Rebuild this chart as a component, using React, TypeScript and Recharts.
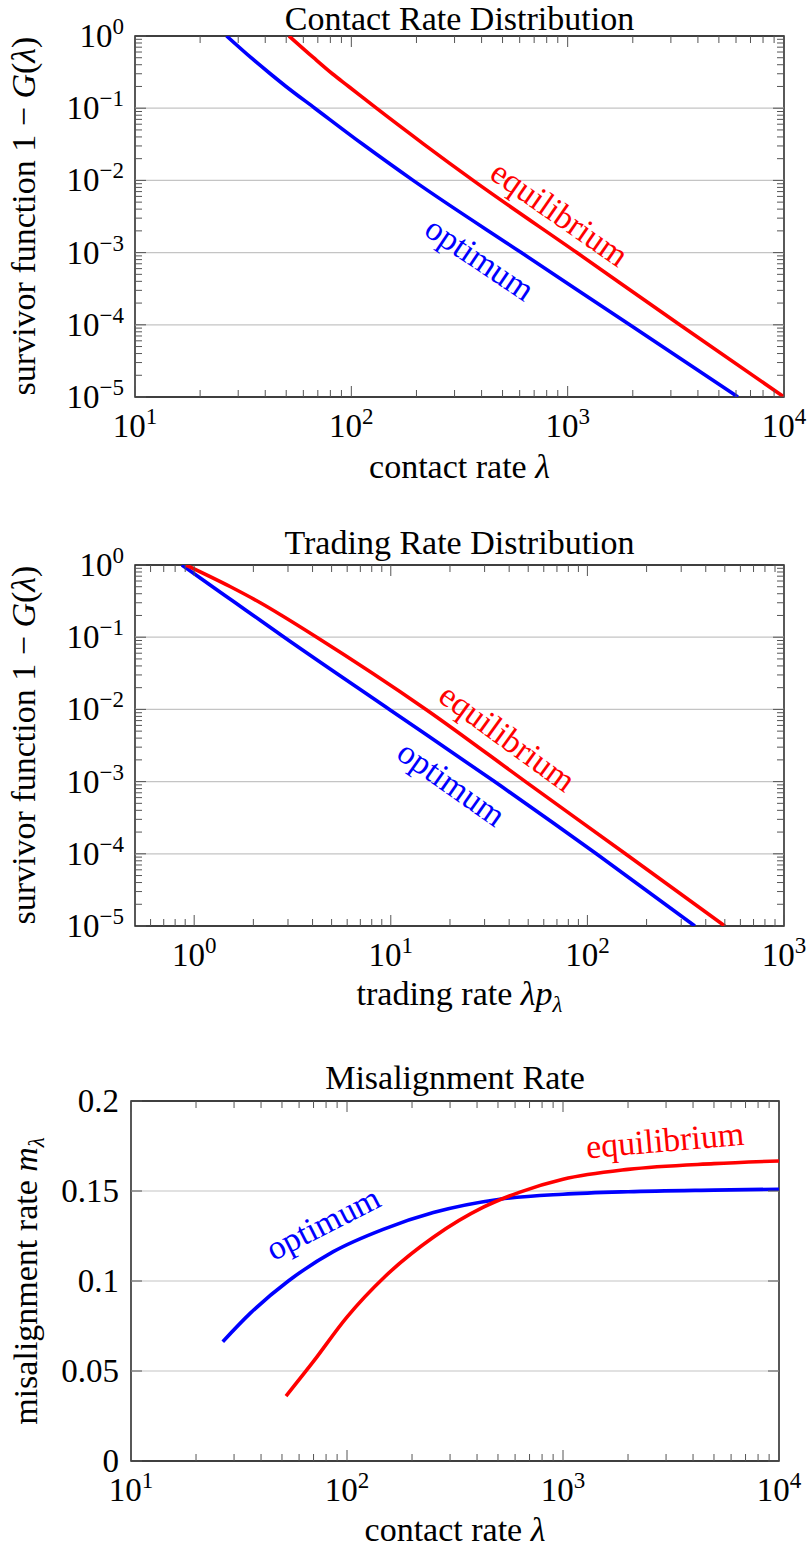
import React from 'react'
import {
  LineChart,
  Line,
  XAxis,
  YAxis,
  ReferenceLine,
  ReferenceArea,
  ReferenceDot,
} from 'recharts'

const FONT = '"Liberation Serif", "Times New Roman", serif'
const RED = '#ff0000'
const BLUE = '#0000ff'

// --- Contact rate distribution (survivor function vs contact rate) ---
const survivorLevels = [1, 0.5, 0.3, 0.2, 0.1, 0.0316, 0.01, 0.001, 0.0001, 0.00001]
const contactOptLambda = [26.5, 34.4, 42.2, 49.9, 67.8, 113, 193, 610, 1936, 6120]
const contactEqLambda = [51.5, 66.9, 81.7, 97.2, 130.6, 216.8, 365.6, 1102, 3296, 10000]

// --- Trading rate distribution (survivor function vs trading rate) ---
const tradeLevels = [1, 0.5, 0.3, 0.2, 0.1, 0.01, 0.001, 0.0001, 0.00001]
const tradeOptRate = [0.866, 1.24, 1.62, 2.0, 2.87, 9.84, 33.7, 111, 352]
const tradeEqRate = [0.908, 1.53, 2.17, 2.79, 4.2, 15.1, 48.4, 156, 500]

// --- Misalignment rate vs contact rate ---
const misOptLambda = [26.6, 35.6, 53.5, 86.4, 147, 251, 510, 1000, 2000, 5000, 10000]
const misOptRate = [0.0663, 0.082, 0.1, 0.1163, 0.1287, 0.138, 0.1454, 0.1482, 0.1496, 0.1505, 0.151]
const misEqLambda = [52.2, 69.8, 99.7, 150, 251, 428, 632, 1000, 2000, 5000, 10000]
const misEqRate = [0.0361, 0.0552, 0.0798, 0.1025, 0.1243, 0.141, 0.1494, 0.1565, 0.162, 0.1652, 0.1667]

// --- ticks ---
const contactTicks = [10, 100, 1000, 10000]
const tradeTicks = [1, 10, 100, 1000]
const survivorTicks = [0.00001, 0.0001, 0.001, 0.01, 0.1, 1]
const misTicks = [0, 0.05, 0.1, 0.15, 0.2]
const misTickLabels = ['0', '0.05', '0.1', '0.15', '0.2']

const zip = (xs: number[], ys: number[]) => xs.map((x, i) => ({ x, y: ys[i] }))

// minor log ticks (2..9 per decade) inside a domain
const minorLog = (decades: number[], lo: number, hi: number) => {
  const out: number[] = []
  decades.forEach((d) => {
    for (let k = 2; k <= 9; k++) {
      const v = d * k
      if (v > lo * 1.0001 && v < hi * 0.9999) out.push(v)
    }
  })
  return out
}

const expLabel = (v: number) => {
  const e = Math.round(Math.log10(v))
  return e < 0 ? '\u2212' + Math.abs(e) : String(e)
}

type Frame = { top: number; bottom: number; left: number; right: number }

const TICK_COLOR = '#555'
const fontStyle = { fontFamily: FONT }

function XTick(props: any) {
  const { x, payload, frame, majors } = props
  const v = payload.value
  const major = majors.includes(v)
  const len = major ? 11 : 7
  return (
    <g>
      <line x1={x} x2={x} y1={frame.bottom} y2={frame.bottom - len} stroke={TICK_COLOR} strokeWidth={1} />
      <line x1={x} x2={x} y1={frame.top} y2={frame.top + len} stroke={TICK_COLOR} strokeWidth={1} />
      {major && (
        <text x={x} y={frame.bottom + 40} textAnchor="middle" style={fontStyle} fontSize={33} fill="#000">
          10
          <tspan dy={-13} fontSize={23}>
            {expLabel(v)}
          </tspan>
        </text>
      )}
    </g>
  )
}

function YTick(props: any) {
  const { y, payload, frame, majors, labels, log } = props
  const v = payload.value
  const idx = majors.indexOf(v)
  const major = idx >= 0
  const len = major ? 11 : 7
  return (
    <g>
      <line x1={frame.left} x2={frame.left + len} y1={y} y2={y} stroke={TICK_COLOR} strokeWidth={1} />
      <line x1={frame.right} x2={frame.right - len} y1={y} y2={y} stroke={TICK_COLOR} strokeWidth={1} />
      {major &&
        (log ? (
          <text x={frame.left - 11} y={y + 11} textAnchor="end" style={fontStyle} fontSize={33} fill="#000">
            10
            <tspan dy={-13} fontSize={23}>
              {expLabel(v)}
            </tspan>
          </text>
        ) : (
          <text x={frame.left - 12} y={y + 11} textAnchor="end" style={fontStyle} fontSize={33} fill="#000">
            {labels[idx]}
          </text>
        ))}
    </g>
  )
}

type Series = { data: { x: number; y: number }[]; color: string; name: string }
type Note = { x: number; y: number; text: string; color: string; angle: number }

type PanelProps = {
  top: number
  height: number
  frame: Frame
  xDomain: [number, number]
  xMajor: number[]
  xMinor: number[]
  yLog: boolean
  yDomain: [number, number]
  yMajor: number[]
  yMinor: number[]
  yLabels?: string[]
  series: Series[]
  notes: Note[]
}

function Panel(p: PanelProps) {
  const { frame } = p
  const grid = p.yMajor.filter((v) => v !== p.yDomain[0] && v !== p.yDomain[1])
  return (
    <div style={{ position: 'absolute', left: 0, top: p.top, width: 807, height: p.height }}>
      <LineChart
        width={807}
        height={p.height}
        margin={{ top: frame.top, right: 807 - frame.right, left: 0, bottom: 0 }}
      >
        <XAxis
          dataKey="x"
          type="number"
          scale="log"
          domain={p.xDomain}
          allowDataOverflow
          ticks={[...p.xMajor, ...p.xMinor]}
          interval={0}
          height={p.height - frame.bottom}
          axisLine={false}
          tickLine={false}
          tick={(t: any) => <XTick {...t} frame={frame} majors={p.xMajor} />}
        />
        <YAxis
          type="number"
          scale={p.yLog ? 'log' : 'linear'}
          domain={p.yDomain}
          allowDataOverflow
          ticks={[...p.yMajor, ...p.yMinor]}
          interval={0}
          width={frame.left}
          axisLine={false}
          tickLine={false}
          tick={(t: any) => (
            <YTick {...t} frame={frame} majors={p.yMajor} labels={p.yLabels} log={p.yLog} />
          )}
        />
        {grid.map((v) => (
          <ReferenceLine key={v} y={v} stroke="#c4c4c4" strokeWidth={1.2} />
        ))}
        <ReferenceArea
          x1={p.xDomain[0]}
          x2={p.xDomain[1]}
          y1={p.yDomain[0]}
          y2={p.yDomain[1]}
          fill="none"
          fillOpacity={0}
          stroke="#000"
          strokeWidth={1.3}
        />
        {p.series.map((s) => (
          <Line
            key={s.name}
            data={s.data}
            dataKey="y"
            type="monotone"
            stroke={s.color}
            strokeWidth={3.6}
            dot={false}
            isAnimationActive={false}
          />
        ))}
        {p.notes.map((n) => (
          <ReferenceDot
            key={n.text}
            x={n.x}
            y={n.y}
            r={0}
            shape={(d: any) => (
              <text
                x={d.cx}
                y={d.cy}
                transform={`rotate(${n.angle} ${d.cx} ${d.cy})`}
                textAnchor="middle"
                dominantBaseline="central"
                style={fontStyle}
                fontSize={34}
                fill={n.color}
              >
                {n.text}
              </text>
            )}
          />
        ))}
      </LineChart>
    </div>
  )
}

export default function App() {
  const txt = { style: fontStyle, fontSize: 34, fill: '#000' }
  return (
    <div style={{ position: 'absolute', left: 0, top: 0, width: 807, height: 1550, background: '#fff' }}>
      <Panel
        top={0}
        height={520}
        frame={{ top: 36, bottom: 397, left: 135, right: 784 }}
        xDomain={[10, 10000]}
        xMajor={contactTicks}
        xMinor={minorLog([10, 100, 1000], 10, 10000)}
        yLog
        yDomain={[0.00001, 1]}
        yMajor={survivorTicks}
        yMinor={minorLog(survivorTicks, 0.00001, 1)}
        series={[
          { name: 'optimum', color: BLUE, data: zip(contactOptLambda, survivorLevels) },
          { name: 'equilibrium', color: RED, data: zip(contactEqLambda, survivorLevels) },
        ]}
        notes={[
          { x: 918, y: 0.0035, text: 'equilibrium', color: RED, angle: 34.8 },
          { x: 393, y: 0.00083, text: 'optimum', color: BLUE, angle: 34 },
        ]}
      />
      <Panel
        top={530}
        height={520}
        frame={{ top: 35, bottom: 396, left: 135, right: 784 }}
        xDomain={[0.5, 1000]}
        xMajor={tradeTicks}
        xMinor={minorLog([0.1, 1, 10, 100], 0.5, 1000)}
        yLog
        yDomain={[0.00001, 1]}
        yMajor={survivorTicks}
        yMinor={minorLog(survivorTicks, 0.00001, 1)}
        series={[
          { name: 'optimum', color: BLUE, data: zip(tradeOptRate, tradeLevels) },
          { name: 'equilibrium', color: RED, data: zip(tradeEqRate, tradeLevels) },
        ]}
        notes={[
          { x: 39.2, y: 0.00411, text: 'equilibrium', color: RED, angle: 36 },
          { x: 20.4, y: 0.00095, text: 'optimum', color: BLUE, angle: 35.2 },
        ]}
      />
      <Panel
        top={1060}
        height={490}
        frame={{ top: 41, bottom: 401, left: 131, right: 779 }}
        xDomain={[10, 10000]}
        xMajor={contactTicks}
        xMinor={minorLog([10, 100, 1000], 10, 10000)}
        yLog={false}
        yDomain={[0, 0.2]}
        yMajor={misTicks}
        yMinor={[]}
        yLabels={misTickLabels}
        series={[
          { name: 'optimum', color: BLUE, data: zip(misOptLambda, misOptRate) },
          { name: 'equilibrium', color: RED, data: zip(misEqLambda, misEqRate) },
        ]}
        notes={[
          { x: 77.4, y: 0.1322, text: 'optimum', color: BLUE, angle: -27 },
          { x: 2965, y: 0.1783, text: 'equilibrium', color: RED, angle: -5 },
        ]}
      />
      <svg
        width={807}
        height={1550}
        style={{ position: 'absolute', left: 0, top: 0, pointerEvents: 'none' }}
      >
        <text x={459.5} y={30} textAnchor="middle" {...txt}>
          Contact Rate Distribution
        </text>
        <text x={459.5} y={478} textAnchor="middle" {...txt}>
          contact rate <tspan fontStyle="italic">λ</tspan>
        </text>
        <text transform="translate(35,216) rotate(-90)" textAnchor="middle" {...txt}>
          survivor function 1 − <tspan fontStyle="italic">G</tspan>(<tspan fontStyle="italic">λ</tspan>)
        </text>

        <text x={459.5} y={554} textAnchor="middle" {...txt}>
          Trading Rate Distribution
        </text>
        <text x={459.5} y={1005} textAnchor="middle" {...txt}>
          trading rate <tspan fontStyle="italic">λp</tspan>
          <tspan fontStyle="italic" fontSize={23} dy={7}>
            λ
          </tspan>
        </text>
        <text transform="translate(35,745) rotate(-90)" textAnchor="middle" {...txt}>
          survivor function 1 − <tspan fontStyle="italic">G</tspan>(<tspan fontStyle="italic">λ</tspan>)
        </text>

        <text x={455} y={1089} textAnchor="middle" {...txt}>
          Misalignment Rate
        </text>
        <text x={455} y={1541} textAnchor="middle" {...txt}>
          contact rate <tspan fontStyle="italic">λ</tspan>
        </text>
        <text transform="translate(37,1281) rotate(-90)" textAnchor="middle" {...txt}>
          misalignment rate <tspan fontStyle="italic">m</tspan>
          <tspan fontStyle="italic" fontSize={23} dy={7}>
            λ
          </tspan>
        </text>
      </svg>
    </div>
  )
}
